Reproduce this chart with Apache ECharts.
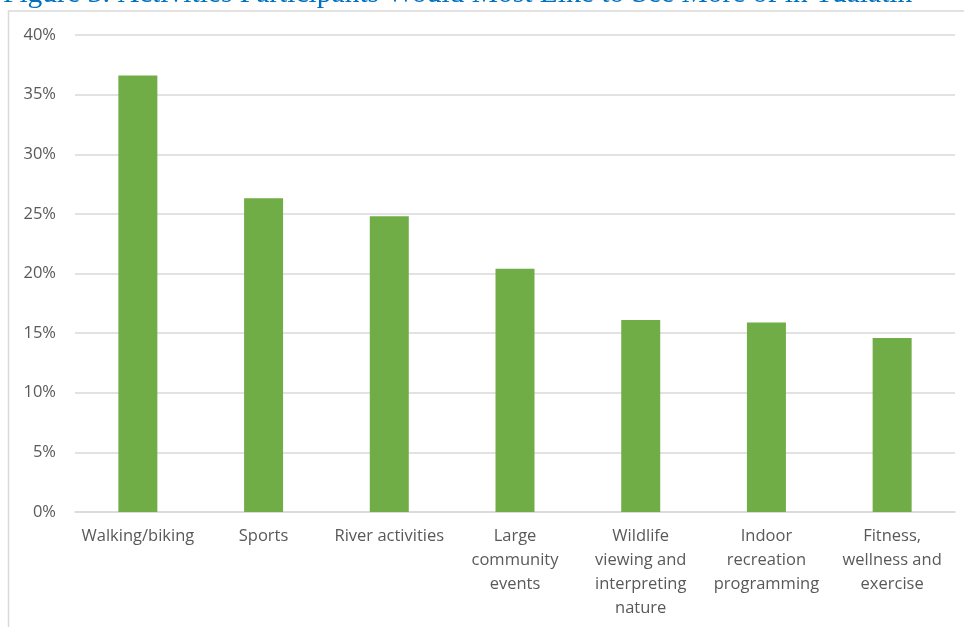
<!DOCTYPE html>
<html>
<head>
<meta charset="utf-8">
<script src="https://cdn.jsdelivr.net/npm/echarts@6/dist/echarts.min.js"></script>
<style>
html,body{margin:0;padding:0;background:#fff;}
#c{width:964px;height:627px;}
</style>
</head>
<body>
<div id="c"></div>
<script>
const titleText = "Figure 3: Activities Participants Would Most Like to See More of in Tualatin";
const categories = [
  "Walking/biking",
  "Sports",
  "River activities",
  "Large\ncommunity\nevents",
  "Wildlife\nviewing and\ninterpreting\nnature",
  "Indoor\nrecreation\nprogramming",
  "Fitness,\nwellness and\nexercise"
];
const values = [36.6, 26.3, 24.8, 20.4, 16.1, 15.9, 14.6];
const yTicks = [0, 5, 10, 15, 20, 25, 30, 35, 40];

const chart = echarts.init(document.getElementById('c'));
chart.setOption({
  animation: false,
  backgroundColor: '#fff',
  graphic: [
    {
      type: 'rect',
      shape: {x: 8.5, y: 11, width: 1000, height: 700},
      style: {fill: 'none', stroke: '#D9D9D9', lineWidth: 1.5},
      silent: true
    },
    {
      type: 'text',
      x: 3, y: 9,
      style: {
        text: titleText,
        font: '29.5px "Liberation Serif", serif',
        fill: '#0070C0',
        textVerticalAlign: 'bottom'
      },
      silent: true
    }
  ],
  grid: {left: 75, right: 9, top: 35, bottom: 115, containLabel: false},
  xAxis: {
    type: 'category',
    data: categories,
    axisLine: {show: true, lineStyle: {color: '#D9D9D9', width: 1.5}},
    axisTick: {show: false},
    axisLabel: {
      interval: 0,
      margin: 12,
      color: '#595959',
      fontFamily: '"Open Sans", sans-serif',
      fontSize: 16.5,
      lineHeight: 24
    }
  },
  yAxis: {
    type: 'value',
    min: yTicks[0],
    max: yTicks[yTicks.length - 1],
    interval: 5,
    axisLine: {show: false},
    axisTick: {show: false},
    splitLine: {lineStyle: {color: '#D9D9D9', width: 1.5}},
    axisLabel: {
      margin: 19,
      color: '#595959',
      fontFamily: '"Open Sans", sans-serif',
      fontSize: 16.5,
      formatter: v => v + '%'
    }
  },
  series: [{
    type: 'bar',
    data: values,
    barWidth: 39,
    itemStyle: {color: '#70AD47'}
  }]
});
</script>
</body>
</html>
